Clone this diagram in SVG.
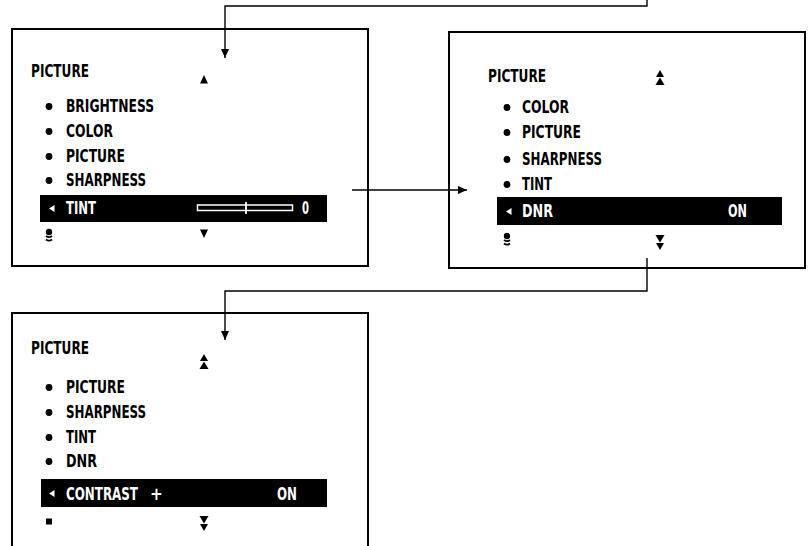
<svg xmlns="http://www.w3.org/2000/svg" width="810" height="546" viewBox="0 0 810 546">
<defs>
<style>
.box{fill:none;stroke:#000;stroke-width:2}
.t{font-family:"DejaVu Sans Condensed","Liberation Sans Narrow","DejaVu Sans",sans-serif;font-stretch:condensed;font-weight:bold;font-size:17px;fill:#000}
.w{fill:#fff}
.bar{fill:#000}
.con{fill:none;stroke:#000;stroke-width:1.4}
</style>
<marker id="ah" markerUnits="userSpaceOnUse" markerWidth="10" markerHeight="10" refX="9" refY="4" orient="auto">
<path d="M0,0 L9,4 L0,8 Z" fill="#000"/>
</marker>
<g id="dbl-up"><polygon points="-4,7 0,0 4,7"/><polygon points="-4.5,15 0,7.5 4.5,15"/></g>
<g id="dbl-dn"><polygon points="-4.5,0 0,7.5 4.5,0"/><polygon points="-4,8 0,15 4,8"/></g>
<g id="stack"><circle cx="0" cy="3" r="3.2"/><path d="M-3,7 Q0,9.2 3,7 M-3,10.5 Q0,12.7 3,10.5" fill="none" stroke="#000" stroke-width="1.9"/></g>
<g id="larr"><polygon points="0,3.5 5.5,0 5.5,7" fill="#fff"/></g>
</defs>
<rect width="810" height="546" fill="#fff"/>

<g id="menu1">
<rect class="box" x="12" y="29" width="356" height="237"/>
<text class="t" x="31" y="77" textLength="58" lengthAdjust="spacingAndGlyphs">PICTURE</text>
<polygon points="200,83.5 204,75 208,83.5"/>
<circle cx="49" cy="106.5" r="3.4"/><text class="t" x="66" y="112" textLength="88" lengthAdjust="spacingAndGlyphs">BRIGHTNESS</text>
<circle cx="49" cy="131.5" r="3.4"/><text class="t" x="66" y="137" textLength="47" lengthAdjust="spacingAndGlyphs">COLOR</text>
<circle cx="49" cy="156.5" r="3.4"/><text class="t" x="66" y="162" textLength="59" lengthAdjust="spacingAndGlyphs">PICTURE</text>
<circle cx="49" cy="180.5" r="3.4"/><text class="t" x="66" y="186" textLength="80" lengthAdjust="spacingAndGlyphs">SHARPNESS</text>
<rect class="bar" x="40" y="195" width="287" height="27"/>
<use href="#larr" x="49" y="205"/>
<text class="t w" x="66" y="214" textLength="30" lengthAdjust="spacingAndGlyphs">TINT</text>
<rect x="197.5" y="205" width="95" height="5.5" fill="none" stroke="#fff" stroke-width="1.5"/>
<line x1="246" y1="202" x2="246" y2="214" stroke="#fff" stroke-width="1.8"/>
<text class="t w" x="302" y="214" textLength="7" lengthAdjust="spacingAndGlyphs">0</text>
<use href="#stack" x="49" y="229"/>
<polygon points="200,229.5 204,238 208,229.5"/>
</g>

<g id="menu2">
<rect class="box" x="449" y="32" width="356" height="236"/>
<text class="t" x="488" y="82" textLength="58" lengthAdjust="spacingAndGlyphs">PICTURE</text>
<use href="#dbl-up" x="660" y="70"/>
<circle cx="507" cy="107.5" r="3.4"/><text class="t" x="522" y="113" textLength="47" lengthAdjust="spacingAndGlyphs">COLOR</text>
<circle cx="507" cy="132.5" r="3.4"/><text class="t" x="522" y="138" textLength="59" lengthAdjust="spacingAndGlyphs">PICTURE</text>
<circle cx="507" cy="159.5" r="3.4"/><text class="t" x="522" y="165" textLength="80" lengthAdjust="spacingAndGlyphs">SHARPNESS</text>
<circle cx="507" cy="184.5" r="3.4"/><text class="t" x="522" y="190" textLength="30" lengthAdjust="spacingAndGlyphs">TINT</text>
<rect class="bar" x="497" y="197" width="285" height="28"/>
<use href="#larr" x="506" y="208"/>
<text class="t w" x="522" y="217" textLength="31" lengthAdjust="spacingAndGlyphs">DNR</text>
<text class="t w" x="728" y="217" textLength="19" lengthAdjust="spacingAndGlyphs">ON</text>
<use href="#stack" x="507" y="233"/>
<use href="#dbl-dn" x="660" y="235"/>
</g>

<g id="menu3">
<rect class="box" x="12" y="313" width="356" height="250"/>
<text class="t" x="31" y="354" textLength="58" lengthAdjust="spacingAndGlyphs">PICTURE</text>
<use href="#dbl-up" x="204" y="354"/>
<circle cx="49" cy="387.5" r="3.4"/><text class="t" x="66" y="393" textLength="59" lengthAdjust="spacingAndGlyphs">PICTURE</text>
<circle cx="49" cy="412.5" r="3.4"/><text class="t" x="66" y="418" textLength="80" lengthAdjust="spacingAndGlyphs">SHARPNESS</text>
<circle cx="49" cy="437.5" r="3.4"/><text class="t" x="66" y="443" textLength="30" lengthAdjust="spacingAndGlyphs">TINT</text>
<circle cx="49" cy="461.5" r="3.4"/><text class="t" x="66" y="467" textLength="31" lengthAdjust="spacingAndGlyphs">DNR</text>
<rect class="bar" x="41" y="479" width="286" height="28"/>
<use href="#larr" x="49" y="490"/>
<text class="t w" y="500"><tspan x="66" textLength="72" lengthAdjust="spacingAndGlyphs">CONTRAST</tspan><tspan x="150">+</tspan></text>
<text class="t w" x="277" y="500" textLength="20" lengthAdjust="spacingAndGlyphs">ON</text>
<rect x="46" y="518.5" width="6" height="6"/>
<use href="#dbl-dn" x="204" y="516"/>
</g>

<g id="connectors">
<path class="con" d="M647,0 V6 H225 V58" marker-end="url(#ah)"/>
<path class="con" d="M352,190 H467" marker-end="url(#ah)"/>
<path class="con" d="M647,258 V291 H225 V340" marker-end="url(#ah)"/>
</g>
</svg>
